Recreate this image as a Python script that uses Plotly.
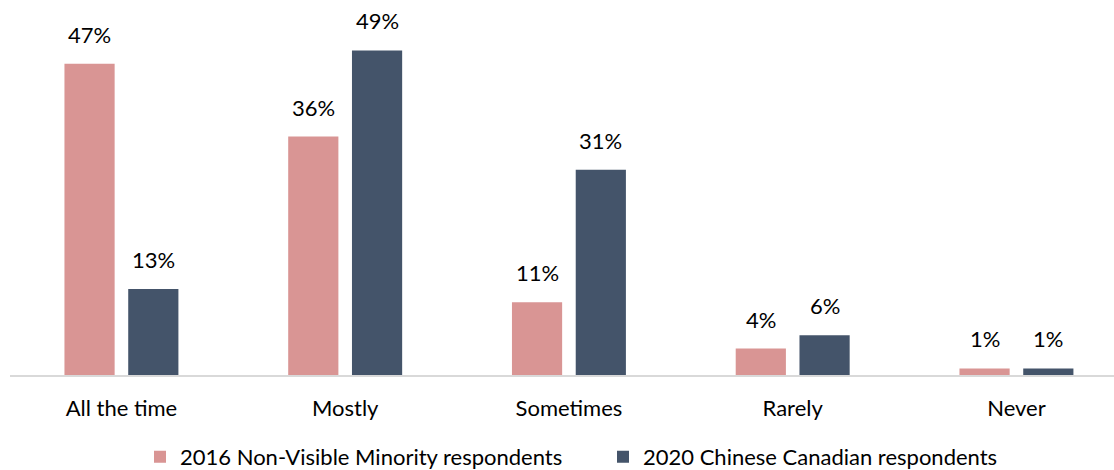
import plotly.graph_objects as go

categories = ["All the time", "Mostly", "Sometimes", "Rarely", "Never"]
series_2016 = [47, 36, 11, 4, 1]
series_2020 = [13, 49, 31, 6, 1]
name_2016 = "2016 Non-Visible Minority respondents"
name_2020 = "2020 Chinese Canadian respondents"

PINK = "#D99594"
NAVY = "#44546A"
FONT = "Lato, 'Open Sans', sans-serif"
FS = 22

fig = go.Figure()
fig.add_trace(go.Bar(x=categories, y=series_2016, name=name_2016,
                     marker=dict(color=PINK, line=dict(width=0))))
fig.add_trace(go.Bar(x=categories, y=series_2020, name=name_2020,
                     marker=dict(color=NAVY, line=dict(width=0))))

# value labels above each bar
half_slot = 31.9
for vals, shift in ((series_2016, -half_slot), (series_2020, half_slot)):
    for c, v in zip(categories, vals):
        fig.add_annotation(x=c, y=v, text=f"{v}%", showarrow=False,
                           xshift=shift, yanchor="bottom", yshift=14,
                           font=dict(family=FONT, size=FS, color="#000000"))

fig.update_layout(
    width=1114, height=470,
    margin=dict(l=10, r=0, t=20, b=95),
    paper_bgcolor="white", plot_bgcolor="white",
    barmode="group", bargap=0.43, bargroupgap=0.213,
    font=dict(family=FONT, size=FS, color="#000000"),
    showlegend=True,
    legend=dict(orientation="h", x=140 / 1114, xanchor="left",
                xref="container", yref="container", y=0.028, yanchor="middle",
                font=dict(family=FONT, size=FS),
                entrywidthmode="pixels", entrywidth=418,
                traceorder="normal"),
    xaxis=dict(type="category", range=[-0.498, 4.436], showgrid=False,
               showline=True, linecolor="#D9D9D9", linewidth=2,
               ticks="outside", ticklen=13, tickcolor="rgba(0,0,0,0)",
               tickfont=dict(family=FONT, size=FS), fixedrange=True),
    yaxis=dict(range=[0, 53.6], visible=False, fixedrange=True),
)

fig.write_html("out.html")
